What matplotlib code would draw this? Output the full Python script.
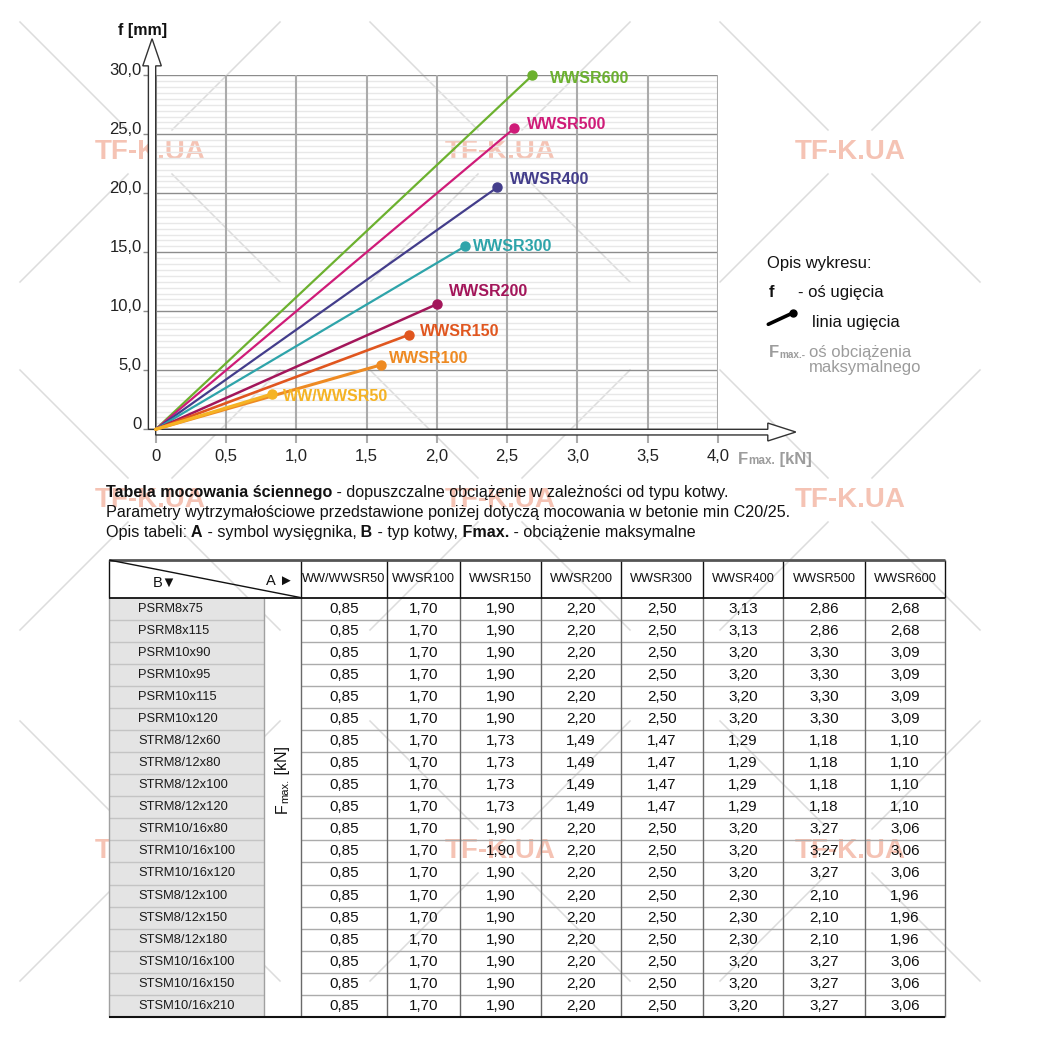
import numpy as np
import matplotlib
matplotlib.use("Agg")
import matplotlib.pyplot as plt
from matplotlib.patches import Polygon, Rectangle
from matplotlib.ticker import MultipleLocator, FuncFormatter

plt.rcParams["font.family"] = ["Liberation Sans", "DejaVu Sans"]

# =====================================================
# data
# =====================================================

series = ["WW/WWSR50", "WWSR100", "WWSR150", "WWSR200",
          "WWSR300", "WWSR400", "WWSR500", "WWSR600"]
f_max = [0.83, 1.60, 1.80, 2.00, 2.20, 2.43, 2.55, 2.68]          # kN
deflection = [3.0, 5.45, 8.0, 10.6, 15.5, 20.5, 25.5, 30.0]        # mm
series_colors = ["#f5b324", "#ee8a22", "#e0561f", "#a3165a",
                 "#2ea4aa", "#433d8b", "#cf1b78", "#6cb12f"]

anchors = ["PSRM8x75", "PSRM8x115", "PSRM10x90", "PSRM10x95", "PSRM10x115",
           "PSRM10x120", "STRM8/12x60", "STRM8/12x80", "STRM8/12x100",
           "STRM8/12x120", "STRM10/16x80", "STRM10/16x100", "STRM10/16x120",
           "STSM8/12x100", "STSM8/12x150", "STSM8/12x180", "STSM10/16x100",
           "STSM10/16x150", "STSM10/16x210"]

v_ww50 = [0.85, 0.85, 0.85, 0.85, 0.85, 0.85, 0.85, 0.85, 0.85, 0.85,
          0.85, 0.85, 0.85, 0.85, 0.85, 0.85, 0.85, 0.85, 0.85]
v_100 = [1.70, 1.70, 1.70, 1.70, 1.70, 1.70, 1.70, 1.70, 1.70, 1.70,
         1.70, 1.70, 1.70, 1.70, 1.70, 1.70, 1.70, 1.70, 1.70]
v_150 = [1.90, 1.90, 1.90, 1.90, 1.90, 1.90, 1.73, 1.73, 1.73, 1.73,
         1.90, 1.90, 1.90, 1.90, 1.90, 1.90, 1.90, 1.90, 1.90]
v_200 = [2.20, 2.20, 2.20, 2.20, 2.20, 2.20, 1.49, 1.49, 1.49, 1.49,
         2.20, 2.20, 2.20, 2.20, 2.20, 2.20, 2.20, 2.20, 2.20]
v_300 = [2.50, 2.50, 2.50, 2.50, 2.50, 2.50, 1.47, 1.47, 1.47, 1.47,
         2.50, 2.50, 2.50, 2.50, 2.50, 2.50, 2.50, 2.50, 2.50]
v_400 = [3.13, 3.13, 3.20, 3.20, 3.20, 3.20, 1.29, 1.29, 1.29, 1.29,
         3.20, 3.20, 3.20, 2.30, 2.30, 2.30, 3.20, 3.20, 3.20]
v_500 = [2.86, 2.86, 3.30, 3.30, 3.30, 3.30, 1.18, 1.18, 1.18, 1.18,
         3.27, 3.27, 3.27, 2.10, 2.10, 2.10, 3.27, 3.27, 3.27]
v_600 = [2.68, 2.68, 3.09, 3.09, 3.09, 3.09, 1.10, 1.10, 1.10, 1.10,
         3.06, 3.06, 3.06, 1.96, 1.96, 1.96, 3.06, 3.06, 3.06]
table_cols = [v_ww50, v_100, v_150, v_200, v_300, v_400, v_500, v_600]

W = 1054.0


def box(x0, y0, x1, y1):
    # pixel box (top-left origin) -> figure fraction
    return [x0 / W, 1 - y1 / W, (x1 - x0) / W, (y1 - y0) / W]


def comma(v, nd=2):
    return f"{v:.{nd}f}".replace(".", ",")


def chain(ax, x, y, parts, **kw):
    # consecutive text pieces on one baseline
    prev = None
    for s, style in parts:
        opts = dict(kw)
        opts.update(style)
        if prev is None:
            prev = ax.text(x, y, s, va="baseline", ha="left", **opts)
        else:
            prev = ax.annotate(s, xy=(1, 0), xycoords=prev,
                               va="bottom", ha="left", **opts)
    return prev


fig = plt.figure(figsize=(10.54, 10.54), dpi=100)

# background layer (free text, watermark) in pixel coords
bg = fig.add_axes([0, 0, 1, 1], zorder=0)
bg.set_xlim(0, W)
bg.set_ylim(W, 0)
bg.axis("off")

wm_centers = [(150, 152), (500, 152), (850, 152),
              (150, 500), (500, 500), (850, 500),
              (150, 851), (500, 851), (850, 851)]
for cx, cy in wm_centers:
    for sx in (-1, 1):
        for sy in (-1, 1):
            bg.plot([cx + sx * 22, cx + sx * 130], [cy + sy * 22, cy + sy * 130],
                    color="#dcdcdc", lw=1.1, zorder=0)
    bg.text(cx, cy, "TF-K.UA", ha="center", va="center", fontsize=20,
            fontweight="bold", color="#f5c3b4", zorder=1)

# =====================================================
# chart
# =====================================================

ax = fig.add_axes(box(155.7, 75.3, 717.9, 429.3), zorder=2)
ax.patch.set_alpha(0)
ax.set_xlim(0, 4)
ax.set_ylim(0, 30)
ax.xaxis.set_major_locator(MultipleLocator(0.5))
ax.yaxis.set_major_locator(MultipleLocator(5))
ax.yaxis.set_minor_locator(MultipleLocator(0.5))
ax.xaxis.set_major_formatter(FuncFormatter(lambda v, p: "0" if v == 0 else comma(v, 1)))
ax.yaxis.set_major_formatter(FuncFormatter(lambda v, p: "0" if v == 0 else comma(v, 1)))
ax.set_axisbelow(True)
ax.xaxis.set_zorder(0.7)
ax.grid(which="minor", axis="y", color="#e8e8e8", lw=1.0)
ax.grid(which="major", axis="y", color="#8c8c8c", lw=1.0)
ax.grid(which="major", axis="x", color="#ababab", lw=1.5)
ax.tick_params(axis="x", direction="out", length=10, width=1.5, color="#ababab",
               pad=4, labelsize=12, labelcolor="#222222")
ax.tick_params(axis="y", which="major", direction="out", length=9.5, width=1.0,
               color="#8c8c8c", pad=0.5, labelsize=12, labelcolor="#222222")
ax.tick_params(axis="y", which="minor", length=0)
for s in ax.spines.values():
    s.set_visible(False)
plt.setp(ax.get_yticklabels(), va="baseline")

# hollow axis arrows
ax.add_patch(Polygon([(-0.052, 0), (-0.052, 30.8), (-0.092, 30.8), (-0.026, 33.1),
                      (0.04, 30.8), (0, 30.8), (0, 0)], closed=True,
                     fc="white", ec="#333333", lw=1.0, clip_on=False, zorder=3))
ax.add_patch(Polygon([(0, 0), (4.355, 0), (4.355, 0.53), (4.554, -0.23),
                      (4.355, -0.99), (4.355, -0.48), (0, -0.48)], closed=True,
                     fc="white", ec="#333333", lw=1.0, clip_on=False, zorder=3))

line_widths = [2.3, 2.2, 1.9, 1.8, 1.6, 1.6, 1.6, 1.6]
label_offsets = [(11, -3), (8, 6), (11, 3), (12, 13), (8, 0), (13, 8), (13, 4), (18, -3)]
for i in reversed(range(len(series))):
    c = series_colors[i]
    ax.plot([0, f_max[i]], [0, deflection[i]], color=c, lw=line_widths[i],
            solid_capstyle="round", clip_on=False, zorder=4)
    ax.plot([f_max[i]], [deflection[i]], "o", ms=6.5, color=c, clip_on=False, zorder=5)
    ax.annotate(series[i], xy=(f_max[i], deflection[i]), xytext=label_offsets[i],
                textcoords="offset pixels", ha="left", va="center", fontsize=11.5,
                fontweight="bold", color=c, zorder=6)

bg.text(143, 30, "f [mm]", ha="center", va="center", fontsize=11.5,
        fontweight="bold", color="#111111")
gray = "#9c9c9c"
chain(bg, 738, 464, [("F", dict(fontsize=12)), ("max.", dict(fontsize=8.5)),
                     (" [kN]", dict(fontsize=12))], fontweight="bold", color=gray)

# legend description
bg.text(767, 268, "Opis wykresu:", fontsize=12, va="baseline", color="#111111")
bg.text(769, 296.7, "f", fontsize=12, va="baseline", fontweight="bold", color="#111111")
bg.text(798, 296.7, "- oś ugięcia", fontsize=12, va="baseline", color="#111111")
bg.plot([768.3, 793.3], [324.3, 312.7], color="black", lw=2.6, solid_capstyle="round")
bg.plot([793.3], [312.7], "o", ms=5, color="black")
bg.text(812.3, 326.7, "linia ugięcia", fontsize=12, va="baseline", color="#111111")
chain(bg, 769, 356.7, [("F", dict(fontsize=12)), ("max.-", dict(fontsize=7.2))],
      fontweight="bold", color=gray)
bg.text(809, 356.7, "oś obciążenia", fontsize=12, va="baseline", color=gray)
bg.text(809, 371.7, "maksymalnego", fontsize=12, va="baseline", color=gray)

# =====================================================
# table description
# =====================================================

B = dict(fontweight="bold")
N = dict(fontweight="normal")
chain(bg, 106, 497, [("Tabela mocowania ściennego", B),
                     (" - dopuszczalne obciążenie w zależności od typu kotwy.", N)],
      fontsize=11.65, color="#111111")
chain(bg, 106, 516.7, [("Parametry wytrzymałościowe przedstawione poniżej dotyczą "
                        "mocowania w betonie min C20/25.", N)],
      fontsize=11.65, color="#111111")
chain(bg, 106, 536.7, [("Opis tabeli:", N), (" A", B), (" - symbol wysięgnika,", N),
                       (" B", B), (" - typ kotwy,", N), (" Fmax.", B),
                       (" - obciążenie maksymalne", N)],
      fontsize=11.65, color="#111111")

# =====================================================
# table
# =====================================================

col_edges = [0, 155, 191.7, 278.3, 351, 432, 512, 593.7, 674.3, 756, 836]
header_h = 37.6
row_h = 22.07
n_rows = len(anchors)
total_h = header_h + n_rows * row_h

tb = fig.add_axes(box(109, 560, 109 + col_edges[-1], 560 + total_h), zorder=2)
tb.patch.set_alpha(0)
tb.set_xlim(0, col_edges[-1])
tb.set_ylim(total_h, 0)
tb.axis("off")

kw_line = dict(clip_on=False, solid_capstyle="butt")
tb.add_patch(Rectangle((0, header_h), col_edges[1], n_rows * row_h,
                       fc="#e4e4e4", ec="none", zorder=1))
for i in range(1, n_rows):
    y = header_h + i * row_h
    tb.plot([0, col_edges[1]], [y, y], color="#c4c4c4", lw=1.0, zorder=2, **kw_line)
    tb.plot([col_edges[2], col_edges[-1]], [y, y], color="#ababab", lw=1.0, zorder=2, **kw_line)

# vertical lines in body
for k, x in enumerate(col_edges):
    c = "#a0a0a0" if k < 2 else "#6a6a6a"
    tb.plot([x, x], [header_h, total_h], color=c, lw=1.0, zorder=3, **kw_line)
# header lines
for k, x in enumerate(col_edges):
    if k == 1:
        continue
    tb.plot([x, x], [0, header_h], color="#111111", lw=1.0, zorder=3, **kw_line)
tb.plot([0, col_edges[-1]], [0, 0], color="#555555", lw=2.0, zorder=3, **kw_line)
tb.plot([0, col_edges[-1]], [header_h, header_h], color="#111111", lw=1.3, zorder=3, **kw_line)
tb.plot([0, col_edges[-1]], [total_h, total_h], color="#111111", lw=1.5, zorder=3, **kw_line)
tb.plot([0, col_edges[2]], [0, header_h], color="#111111", lw=1.0, zorder=3, **kw_line)

tb.text(56, 23, "B▼", ha="center", va="center", fontsize=10.5, color="#111111")
tb.text(171, 20.5, "A ►", ha="center", va="center", fontsize=10.5, color="#111111")
for j, name in enumerate(series):
    xc = (col_edges[j + 2] + col_edges[j + 3]) / 2
    tb.text(xc, header_h / 2 + 0.5, name, ha="center", va="center",
            fontsize=9.2, color="#111111")

for i, name in enumerate(anchors):
    yc = header_h + (i + 0.5) * row_h
    tb.text(29, yc, name, ha="left", va="center", fontsize=9.3, color="#1a1a1a", zorder=4)
    for j, col in enumerate(table_cols):
        xc = (col_edges[j + 2] + col_edges[j + 3]) / 2
        tb.text(xc, yc, comma(col[i]), ha="center", va="center",
                fontsize=11, color="#111111", zorder=4)

# rotated merged-cell label
t1 = tb.text(181, 253, "F", rotation=90, ha="right", va="bottom",
             fontsize=11.5, color="#111111")
t2 = tb.annotate("max.", xy=(1, 1), xycoords=t1, rotation=90, ha="right",
                 va="bottom", fontsize=8, color="#111111")
tb.annotate(" [kN]", xy=(1, 1), xycoords=t2, rotation=90, ha="right",
            va="bottom", fontsize=11.5, color="#111111")

fig.savefig("out.png", dpi=100)
